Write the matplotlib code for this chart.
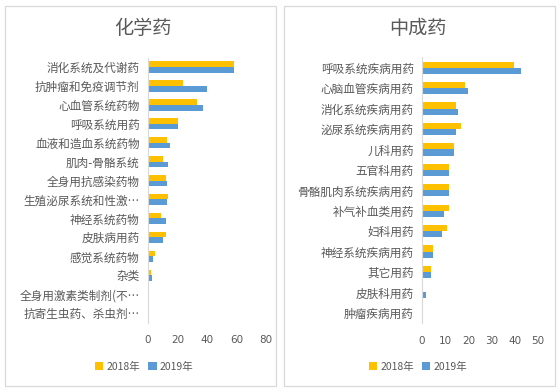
import matplotlib
matplotlib.use("Agg")
import matplotlib.pyplot as plt
from matplotlib.patches import Rectangle
import numpy as np

plt.rcParams['font.family'] = ['Noto Sans CJK SC', 'DejaVu Sans']

# ---- data ----
chem_title = "化学药"
chem_cats = ["消化系统及代谢药", "抗肿瘤和免疫调节剂", "心血管系统药物", "呼吸系统用药",
             "血液和造血系统药物", "肌肉-骨骼系统", "全身用抗感染药物", "生殖泌尿系统和性激…",
             "神经系统药物", "皮肤病用药", "感觉系统药物", "杂类",
             "全身用激素类制剂(不…", "抗寄生虫药、杀虫剂…"]
chem_2018 = [58.5, 24, 33, 20, 12.7, 10.4, 12, 13.8, 8.8, 12, 4.7, 1.8, 0.5, 0.5]
chem_2019 = [58.5, 40, 37, 20, 15, 13.8, 12.7, 12.7, 12, 10.4, 3.5, 2.5, 0.3, 0.3]
chem_ticks = [0, 20, 40, 60, 80]

tcm_title = "中成药"
tcm_cats = ["呼吸系统疾病用药", "心脑血管疾病用药", "消化系统疾病用药", "泌尿系统疾病用药",
            "儿科用药", "五官科用药", "骨骼肌肉系统疾病用药", "补气补血类用药",
            "妇科用药", "神经系统疾病用药", "其它用药", "皮肤科用药", "肿瘤疾病用药"]
tcm_2018 = [39.8, 18.5, 14.7, 16.8, 13.6, 11.8, 11.8, 11.8, 10.8, 4.6, 3.9, 0.6, 0.0]
tcm_2019 = [42.7, 19.7, 15.7, 14.7, 13.6, 11.8, 11.8, 9.6, 8.6, 4.6, 3.9, 1.7, 0.0]
tcm_ticks = [0, 10, 20, 30, 40, 50]

series_names = ["2018年", "2019年"]
colors = ["#FFC000", "#5B9BD5"]
text_color = "#595959"

W, H = 560, 392
fig = plt.figure(figsize=(W / 100, H / 100), dpi=100)
fig.patch.set_facecolor("white")

def px_rect(x0, y0, x1, y1):
    return [x0 / W, 1 - y1 / H, (x1 - x0) / W, (y1 - y0) / H]

# panel borders
for (x0, y0, x1, y1) in [(5, 6, 276, 386), (284, 6, 555, 386)]:
    fig.add_artist(Rectangle((x0 / W, 1 - y1 / H), (x1 - x0) / W, (y1 - y0) / H,
                             transform=fig.transFigure, fill=False,
                             edgecolor="#D9D9D9", linewidth=0.9))

def panel(rect, cats, v18, v19, ticks, title, title_x, legend_x):
    ax = fig.add_axes(rect)
    n = len(cats)
    y = np.arange(n)
    h = 0.3
    ax.barh(y - h / 2, v18, height=h, color=colors[0], label=series_names[0])
    ax.barh(y + h / 2, v19, height=h, color=colors[1], label=series_names[1])
    ax.set_ylim(n - 0.5, -0.5)
    ax.set_xlim(ticks[0], ticks[-1])
    ax.set_xticks(ticks)
    ax.set_yticks(y)
    ax.set_yticklabels(cats, fontsize=8.4, color=text_color)
    ax.tick_params(axis="x", labelsize=7.5, labelcolor=text_color, length=0, pad=9)
    ax.tick_params(axis="y", length=0, pad=6)
    for lab in ax.get_xticklabels():
        lab.set_family(["DejaVu Sans"])
    for s in ["top", "right", "bottom"]:
        ax.spines[s].set_visible(False)
    ax.spines["left"].set_color("#D9D9D9")
    ax.spines["left"].set_linewidth(0.8)
    fig.text(title_x / W, 1 - 28 / H, title, ha="center", va="center",
             fontsize=13.8, color=text_color)
    leg = fig.legend(handles=ax.patches[:1] + ax.patches[n:n + 1],
                     labels=series_names, loc="center",
                     bbox_to_anchor=(legend_x / W, 1 - 367 / H), ncol=2,
                     frameon=False, fontsize=7.5, handlelength=0.8, handleheight=0.8,
                     handletextpad=0.3, columnspacing=0.8)
    for t in leg.get_texts():
        t.set_color(text_color)
    return ax

panel(px_rect(148, 57.5, 266, 322.5), chem_cats, chem_2018, chem_2019, chem_ticks,
      chem_title, 143, 144)
panel(px_rect(422, 57.5, 538, 323), tcm_cats, tcm_2018, tcm_2019, tcm_ticks,
      tcm_title, 418, 418)

fig.savefig("out.png", dpi=100)
